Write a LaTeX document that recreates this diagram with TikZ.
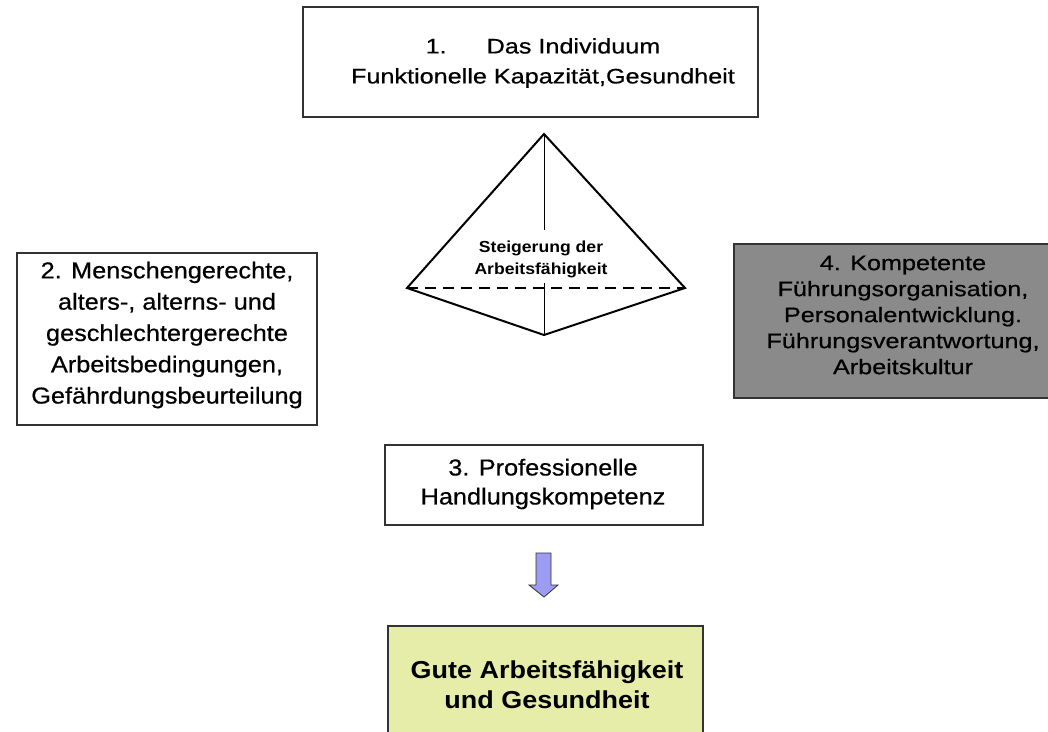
\documentclass[tikz,border=0pt]{standalone}
\usepackage{fontspec}
\setmainfont{Liberation Sans}
\newfontfamily\fwide{Liberation Sans}[FakeStretch=1.2, FakeBold=0.6]
\newfontfamily\fmidr{Liberation Sans}[FakeStretch=1.1, FakeBold=0.6]
\newfontfamily\fmid{Liberation Sans}[FakeStretch=1.1]
\definecolor{boxgray}{HTML}{8A8A8A}
\definecolor{boxgreen}{HTML}{E6EDA8}
\definecolor{arrowblue}{HTML}{9C9CF2}
\definecolor{edge}{HTML}{333333}
\begin{document}
\begin{tikzpicture}[x=1pt,y=-1pt,
  box/.style={draw=edge, line width=1.4pt, inner sep=0pt},
  txt/.style={align=center, inner sep=0pt},
  pyr/.style={line width=2pt, line join=miter},
]
\useasboundingbox (0,0) rectangle (1048,731);
\clip (0,0) rectangle (1048,731);

% Box 1
\node[box, minimum width=455pt, minimum height=110pt] (b1) at (530.5,62) {};
\node[txt, font={\fwide\fontsize{21}{30}\selectfont}] (t1) at (543,63)
  {1.\hspace{40pt}Das Individuum\\Funktionelle Kapazität,Gesundheit};

% Pyramid
\coordinate (A) at (544,134);
\coordinate (L) at (407,288);
\coordinate (R) at (685,288);
\coordinate (B) at (544,335);
\coordinate (V1) at (544,230);
\coordinate (V2) at (544,283);
\draw[pyr] (L) -- (A) -- (R) -- (B) -- cycle;
\draw[line width=1.8pt, dashed, dash pattern=on 11pt off 7pt] (L) -- (R);
\draw[line width=0.9pt] (A) -- (V1);
\draw[line width=0.9pt] (V2) -- (B);
\node[txt, font={\fmid\bfseries\fontsize{16}{22}\selectfont}] (tp) at (541,259)
  {Steigerung der\\Arbeitsfähigkeit};

% Box 2
\node[box, minimum width=300pt, minimum height=172pt] (b2) at (167,339) {};
\node[txt, font={\fmidr\fontsize{23}{31.3}\selectfont}] (t2) at (167,335)
  {2. Menschengerechte,\\alters-, alterns- und\\geschlechtergerechte\\Arbeitsbedingungen,\\Gefährdungsbeurteilung};

% Box 4
\node[box, fill=boxgray, minimum width=332pt, minimum height=154pt] (b4) at (900,321) {};
\node[txt, font={\fwide\fontsize{21}{26}\selectfont}] (t4) at (903,315)
  {4. Kompetente\\Führungsorganisation,\\Personalentwicklung.\\Führungsverantwortung,\\Arbeitskultur};

% Box 3
\node[box, minimum width=318pt, minimum height=80pt] (b3) at (544,485) {};
\node[txt, font={\fmidr\fontsize{23}{29}\selectfont}] (t3) at (543,484)
  {3. Professionelle\\Handlungskompetenz};

% Block arrow
\coordinate (a1) at (536,553);
\coordinate (a2) at (551,553);
\coordinate (a3) at (551,585);
\coordinate (a4) at (558,585);
\coordinate (a5) at (544,597);
\coordinate (a6) at (529,585);
\coordinate (a7) at (536,585);
\draw[draw=edge, line width=0.8pt, fill=arrowblue] (a1) -- (a2) -- (a3) -- (a4) -- (a5) -- (a6) -- (a7) -- cycle;

% Green box
\node[box, fill=boxgreen, minimum width=315pt, minimum height=134pt] (b5) at (545.5,693) {};
\node[txt, font={\fmid\bfseries\fontsize{24.5}{30}\selectfont}] (t5) at (547,685)
  {Gute Arbeitsfähigkeit\\und Gesundheit};
\end{tikzpicture}
\end{document}
